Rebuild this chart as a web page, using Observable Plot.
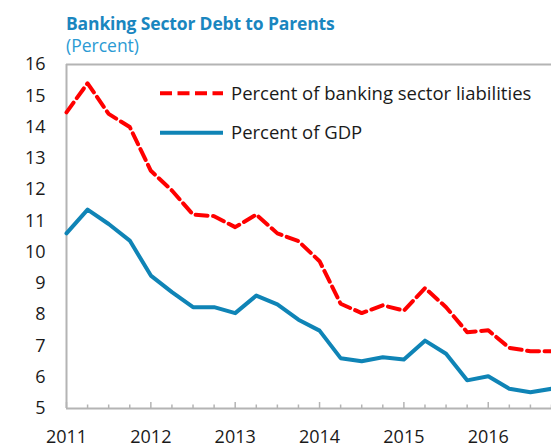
<!DOCTYPE html>
<html><head><meta charset="utf-8">
<script src="https://cdn.jsdelivr.net/npm/d3@7"></script>
<script src="https://cdn.jsdelivr.net/npm/@observablehq/plot@0.6"></script>
<style>
body{margin:0;background:#fff;font-family:"Open Sans",sans-serif;}
#wrap{position:relative;width:551px;height:447px;overflow:hidden;}
#head{position:relative;height:56px;}
.title{position:absolute;left:66px;top:13px;font-size:17.5px;line-height:20px;font-weight:700;color:#1a86bf;white-space:nowrap;letter-spacing:-0.15px;}
.sub{position:absolute;left:66px;top:35px;font-size:17.5px;line-height:20px;color:#2b9ad3;white-space:nowrap;}
svg{display:block;}
</style>
</head><body>
<div id="wrap">
  <div id="head">
    <div class="title">Banking Sector Debt to Parents</div>
    <div class="sub">(Percent)</div>
  </div>
  <div id="chart"></div>
</div>
<script>
const quarters = ["2011Q1","2011Q2","2011Q3","2011Q4","2012Q1","2012Q2","2012Q3","2012Q4",
  "2013Q1","2013Q2","2013Q3","2013Q4","2014Q1","2014Q2","2014Q3","2014Q4",
  "2015Q1","2015Q2","2015Q3","2015Q4","2016Q1","2016Q2","2016Q3","2016Q4"];
const liabilities = [14.47, 15.4, 14.42, 14.0, 12.6, 11.97, 11.2, 11.15, 10.8, 11.2, 10.6, 10.35,
  9.71, 8.35, 8.05, 8.3, 8.13, 8.85, 8.24, 7.44, 7.5, 6.94, 6.83, 6.83];
const gdp = [10.6, 11.36, 10.9, 10.37, 9.25, 8.72, 8.24, 8.24, 8.05, 8.61, 8.33, 7.84,
  7.49, 6.61, 6.51, 6.64, 6.57, 7.17, 6.75, 5.9, 6.03, 5.63, 5.52, 5.63];
const seriesNames = ["Percent of banking sector liabilities", "Percent of GDP"];
const seriesColors = ["#ff0000", "#0f84b6"];
const yearTicks = [2011, 2012, 2013, 2014, 2015, 2016];
const yTicks = [5, 6, 7, 8, 9, 10, 11, 12, 13, 14, 15, 16];

const toYear = q => +q.slice(0, 4) + (+q.slice(5) - 1) / 4;
const t = quarters.map(toYear);
const rows = [
  ...quarters.map((q, i) => ({t: t[i], v: liabilities[i], s: seriesNames[0]})),
  ...quarters.map((q, i) => ({t: t[i], v: gdp[i], s: seriesNames[1]}))
];
const minorTicks = t.filter(v => !yearTicks.includes(v));
const xDomain = [d3.min(t), d3.max(t)];
const yDomain = [d3.min(yTicks), d3.max(yTicks)];
const gray = "#b4b4b4";

const W = 551, H = 391, MT = 8, MB = 39;
const innerH = H - MT - MB;

const plot = Plot.plot({
  width: W,
  height: H,
  marginTop: MT,
  marginBottom: MB,
  marginLeft: 66,
  marginRight: 0,
  style: {fontFamily: "'Open Sans', sans-serif", fontSize: "18px", color: "#1a1a1a", overflow: "visible"},
  x: {domain: xDomain},
  y: {domain: yDomain},
  marks: [
    Plot.ruleY([yDomain[1]], {stroke: gray, strokeWidth: 2}),
    Plot.ruleX([xDomain[0]], {stroke: gray, strokeWidth: 2}),
    Plot.axisY({ticks: yTicks, tickSize: 0, tickPadding: 21, label: null, fontSize: 18}),
    Plot.axisX({ticks: yearTicks, tickFormat: d => String(d), tickSize: 0, tickPadding: 22, label: null, fontSize: 18}),
    // inward tick marks on the x axis (major longer than minor)
    Plot.ruleX(yearTicks, {stroke: gray, strokeWidth: 1.5, insetTop: innerH - 6}),
    Plot.ruleX(minorTicks, {stroke: gray, strokeWidth: 1.5, insetTop: innerH - 3.5}),
    Plot.ruleY([yDomain[0]], {stroke: gray, strokeWidth: 2}),
    Plot.line(rows.filter(d => d.s === seriesNames[1]), {x: "t", y: "v", stroke: seriesColors[1], strokeWidth: 4, strokeLinejoin: "round"}),
    Plot.line(rows.filter(d => d.s === seriesNames[0]), {x: "t", y: "v", stroke: seriesColors[0], strokeWidth: 4, strokeDasharray: "12,5.5", strokeLinejoin: "round"})
  ]
});
document.getElementById("chart").append(plot);

// legend inside the plot area
const svg = d3.select(plot);
const lg = svg.append("g").attr("font-family", "'Open Sans', sans-serif").attr("font-size", 18.5)
  .attr("fill", "#1a1a1a").attr("text-anchor", "start");
const legendYs = [37.3, 76.7];
seriesNames.forEach((name, i) => {
  const g = lg.append("g").attr("transform", `translate(160,${legendYs[i]})`);
  g.append("line").attr("x1", 0).attr("x2", 63).attr("y1", 0).attr("y2", 0)
    .attr("stroke", seriesColors[i]).attr("stroke-width", 4)
    .attr("stroke-dasharray", i === 0 ? "12,5.5" : null);
  g.append("text").attr("x", 71).attr("dy", "0.35em").text(name);
});
</script>
</body></html>
